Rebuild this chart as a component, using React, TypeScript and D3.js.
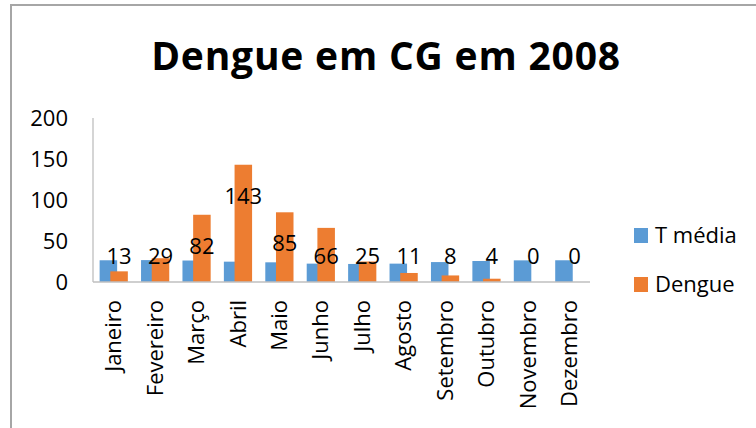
import React from 'react';
import * as d3 from 'd3';

const months = ['Janeiro', 'Fevereiro', 'Março', 'Abril', 'Maio', 'Junho', 'Julho', 'Agosto', 'Setembro', 'Outubro', 'Novembro', 'Dezembro'];
const tMedia = [26.5, 26.7, 26.2, 24.8, 24, 22.4, 22, 22.4, 24.3, 25.6, 26.4, 26.5];
const dengue = [13, 29, 82, 143, 85, 66, 25, 11, 8, 4, 0, 0];
const yTicks = [0, 50, 100, 150, 200];
const seriesNames = ['T média', 'Dengue'];

const BLUE = '#5B9BD5';
const ORANGE = '#ED7D31';
const FONT = '"Open Sans", Lato, sans-serif';

export default function App() {
    const width = 756;
    const height = 428;
    const plot = { left: 93, right: 590, top: 118, bottom: 282 };

    const x = d3.scaleBand<string>()
        .domain(months)
        .range([plot.left, plot.right]);

    const y = d3.scaleLinear()
        .domain([0, 200])
        .range([plot.bottom, plot.top]);

    const bw = x.bandwidth();
    const barW = bw * 0.423;
    // bars overlap a bit, Dengue drawn over T média
    const blueOff = -bw * 0.34;
    const orangeOff = -bw * 0.082;

    return (
        <svg width={width} height={height} style={{ position: 'absolute', left: 0, top: 0, background: '#fff' }}>
            <rect x={11} y={5} width={width} height={height} fill="#fff" stroke="#a6a6a6" strokeWidth={2} />

            <text x={386} y={70} textAnchor="middle" fontFamily={FONT} fontWeight="bold" fontSize={39} letterSpacing={0.8} fill="#000">
                Dengue em CG em 2008
            </text>

            {/* y axis labels */}
            {yTicks.map(t => (
                <text key={t} x={68} y={y(t)} dy="0.35em" textAnchor="end" fontFamily={FONT} fontSize={22} fill="#000">{t}</text>
            ))}
            <line x1={plot.left} x2={plot.left} y1={plot.top} y2={plot.bottom} stroke="#bfbfbf" strokeWidth={1.3} />

            {/* bars */}
            {months.map((m, i) => {
                const c = (x(m) ?? 0) + bw / 2;
                return (
                    <g key={m}>
                        <rect x={c + blueOff} y={y(tMedia[i])} width={barW} height={y(0) - y(tMedia[i])} fill={BLUE} />
                        <rect x={c + orangeOff} y={y(dengue[i])} width={barW} height={y(0) - y(dengue[i])} fill={ORANGE} />
                    </g>
                );
            })}
            <line x1={plot.left} x2={plot.right} y1={plot.bottom} y2={plot.bottom} stroke="#bfbfbf" strokeWidth={1.3} />

            {/* data labels for Dengue */}
            {months.map((m, i) => {
                const c = (x(m) ?? 0) + bw / 2 + orangeOff + barW / 2;
                const ly = Math.min(y(dengue[i]) + 39, plot.bottom - 18.5);
                return (
                    <text key={m} x={c} y={ly} textAnchor="middle" fontFamily={FONT} fontSize={22} fill="#000">{dengue[i]}</text>
                );
            })}

            {/* x labels */}
            {months.map(m => {
                const c = (x(m) ?? 0) + bw / 2;
                return (
                    <text key={m} transform={`translate(${c},300) rotate(-90)`} dy="0.35em" textAnchor="end" fontFamily={FONT} fontSize={22} fill="#000">{m}</text>
                );
            })}

            {/* legend */}
            {seriesNames.map((s, i) => (
                <g key={s} transform={`translate(634,${228 + i * 49})`}>
                    <rect width={14} height={15} fill={i === 0 ? BLUE : ORANGE} />
                    <text x={21} y={15} fontFamily={FONT} fontSize={22} fill="#000">{s}</text>
                </g>
            ))}
        </svg>
    );
}
